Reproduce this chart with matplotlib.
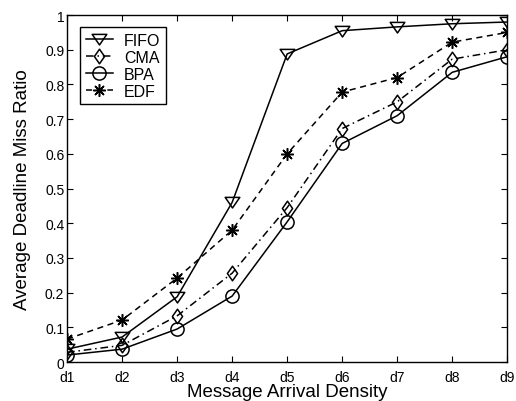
import numpy as np
import matplotlib
matplotlib.use("Agg")
from matplotlib import pyplot as plt
from matplotlib.path import Path

plt.rcParams['font.family'] = ['Liberation Sans', 'DejaVu Sans']

densities = ["d1", "d2", "d3", "d4", "d5", "d6", "d7", "d8", "d9"]
fifo = [0.037, 0.072, 0.188, 0.46, 0.888, 0.955, 0.966, 0.975, 0.98]
cma = [0.028, 0.048, 0.133, 0.256, 0.445, 0.673, 0.75, 0.873, 0.90]
bpa = [0.02, 0.037, 0.095, 0.19, 0.404, 0.63, 0.71, 0.835, 0.88]
edf = [0.066, 0.121, 0.242, 0.38, 0.60, 0.778, 0.82, 0.922, 0.95]

x = np.arange(1, len(densities) + 1)

# matlab-ish markers: wide down-triangle, tall diamond
tri_down = Path([(-1, 0.7), (1, 0.7), (0, -0.75), (-1, 0.7)],
                [Path.MOVETO, Path.LINETO, Path.LINETO, Path.CLOSEPOLY])
diamond = Path([(0, 1), (0.7, 0), (0, -1), (-0.7, 0), (0, 1)],
               [Path.MOVETO, Path.LINETO, Path.LINETO, Path.LINETO, Path.CLOSEPOLY])

fig = plt.figure(figsize=(5.16, 4.02), dpi=100)
ax = fig.add_axes([0.130, 0.097, 0.853, 0.863])

common = dict(color="black", linewidth=1.1, markerfacecolor="none",
              markeredgecolor="black", markeredgewidth=1.1)
ax.plot(x, fifo, linestyle="-", marker=tri_down, markersize=10.5, label="FIFO", **common)
ax.plot(x, cma, linestyle="-.", dashes=(5, 2.5, 1, 2.5), marker=diamond, markersize=10.5,
        label="CMA", **common)
ax.plot(x, bpa, linestyle="-", marker="o", markersize=9.5, label="BPA", **common)
ax.plot(x, edf, linestyle="--", dashes=(4, 3), marker=(8, 2, 0), markersize=9,
        label="EDF", **common)

ax.set_xlim(1, 9)
ax.set_ylim(0, 1)
ax.set_xticks(x)
ax.set_xticklabels(densities)
ax.set_yticks(np.arange(0, 1.01, 0.1))
ax.set_yticklabels(["0", "0.1", "0.2", "0.3", "0.4", "0.5", "0.6", "0.7", "0.8", "0.9", "1"])
ax.tick_params(direction="in", top=True, right=True, labelsize=10, length=4, pad=2)
ax.tick_params(axis="x", pad=6)
for s in ax.spines.values():
    s.set_linewidth(1.0)

ax.set_xlabel("Message Arrival Density", fontsize=13.5, labelpad=-1)
ax.set_ylabel("Average Deadline Miss Ratio", fontsize=13.5, labelpad=10)

leg = ax.legend(loc="upper left", bbox_to_anchor=(0.0295, 0.965), borderaxespad=0,
                fontsize=11.5, fancybox=False, edgecolor="black", framealpha=1,
                handlelength=1.7, handletextpad=0.7, borderpad=0.35, labelspacing=0.12)
leg.get_frame().set_linewidth(1.0)

fig.savefig("out.png", dpi=100)
